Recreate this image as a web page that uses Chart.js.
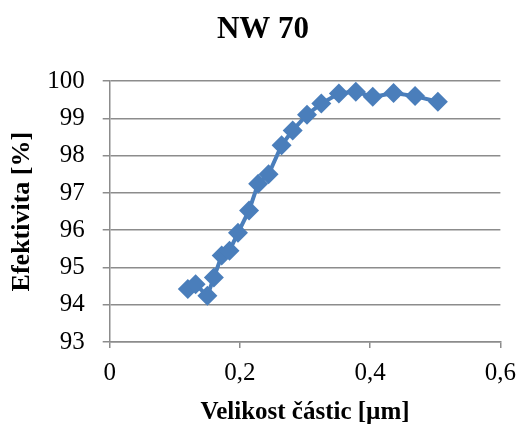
<!DOCTYPE html>
<html>
<head>
<meta charset="utf-8">
<script src="https://cdn.jsdelivr.net/npm/chart.js@4"></script>
<style>
  html, body { margin: 0; padding: 0; background: #fff; }
  #wrap { width: 526px; height: 426px; }
</style>
</head>
<body>
<div id="wrap"><canvas id="graf"></canvas></div>
<script>
// Data z grafu NW 70
const velikost = [0.120, 0.132, 0.150, 0.160, 0.172, 0.184, 0.197, 0.214, 0.228, 0.244,
                  0.264, 0.281, 0.303, 0.325, 0.352, 0.378, 0.404, 0.436, 0.469, 0.504];
const efektivita = [94.42, 94.55, 94.24, 94.73, 95.32, 95.45, 95.93, 96.53, 97.25, 97.50,
                    98.28, 98.68, 99.10, 99.40, 99.67, 99.72, 99.58, 99.68, 99.60, 99.45];
const xTicks = [0, 0.2, 0.4, 0.6];
const yTicks = [93, 94, 95, 96, 97, 98, 99, 100];

const font = 'Liberation Serif, Times New Roman, serif';
const modra = '#4A7EBB';
const seda = '#8C8C8C';

const body = velikost.map((x, i) => ({ x: x, y: efektivita[i] }));

new Chart(document.getElementById('graf').getContext('2d'), {
    type: 'line',
    data: {
        datasets: [{
            label: 'NW 70',
            data: body,
            borderColor: modra,
            backgroundColor: modra,
            borderWidth: 4,
            pointStyle: 'rectRot',
            pointRadius: 10,
            pointHoverRadius: 10,
            pointBorderWidth: 0,
            tension: 0
        }]
    },
    options: {
        responsive: true,
        maintainAspectRatio: false,
        animation: false,
        // vlevo i vpravo stejne, aby byl nadpis na stredu
        layout: { padding: { top: 0, right: 22, bottom: 1, left: 22 } },
        plugins: {
            legend: { display: false },
            tooltip: { enabled: false },
            title: {
                display: true,
                text: 'NW 70',
                color: '#000',
                font: { family: font, size: 31, weight: 'bold' },
                padding: { top: 11, bottom: 33 }
            }
        },
        scales: {
            x: {
                type: 'linear',
                min: 0,
                max: 0.6,
                afterBuildTicks: axis => { axis.ticks = xTicks.map(v => ({ value: v })); },
                ticks: {
                    color: '#000',
                    font: { family: font, size: 25 },
                    padding: 10,
                    maxRotation: 0,
                    callback: v => String(v).replace('.', ',')
                },
                grid: { drawOnChartArea: false, drawTicks: true, tickLength: 6, color: seda, lineWidth: 1.5 },
                border: { display: true, color: seda, width: 1.5 },
                title: {
                    display: true,
                    text: 'Velikost částic [µm]',
                    color: '#000',
                    font: { family: font, size: 25, weight: 'bold' },
                    padding: { top: 0, bottom: -3 }
                }
            },
            y: {
                min: 93,
                max: 100,
                afterBuildTicks: axis => { axis.ticks = yTicks.map(v => ({ value: v })); },
                ticks: {
                    color: '#000',
                    font: { family: font, size: 25 },
                    padding: 18
                },
                grid: { color: seda, lineWidth: 1.5, tickLength: 7 },
                border: { display: true, color: seda, width: 1.5 },
                title: {
                    display: true,
                    text: 'Efektivita [%]',
                    color: '#000',
                    font: { family: font, size: 26, weight: 'bold' },
                    padding: { top: -15, bottom: -9 }
                }
            }
        }
    }
});
</script>
</body>
</html>
